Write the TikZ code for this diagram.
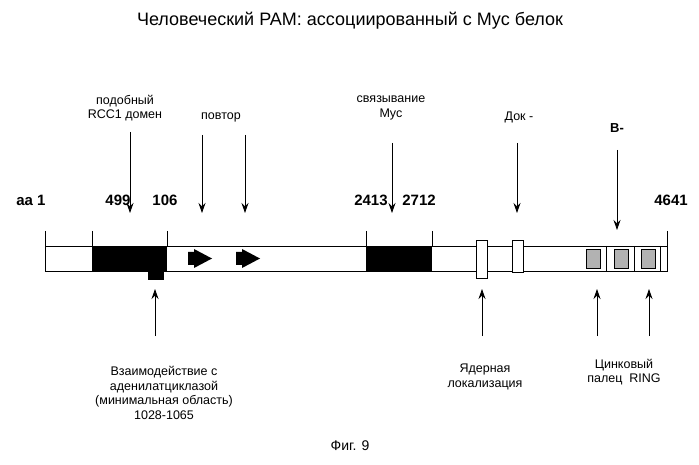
\documentclass[tikz,border=0pt]{standalone}
\usepackage{fontspec}
\setmainfont{Liberation Sans}
\usetikzlibrary{arrows.meta}

\tikzset{
  lbl/.style={align=center, font=\fontsize{12.5}{14.5}\selectfont, inner sep=1pt},
  num/.style={font=\bfseries\fontsize{15}{17}\selectfont, inner sep=1pt},
  pt/.style={-{Stealth[length=10pt,width=7pt]}, thick},
}

\begin{document}
\begin{tikzpicture}[x=1pt,y=-1pt]
            \useasboundingbox (0,0) rectangle (699,465);

            % title and caption
            \node[font=\fontsize{18}{21}\selectfont] (title) at (350,21) {Человеческий PAM: ассоциированный с Myc белок};
            \node[font=\fontsize{14}{16}\selectfont] (fig) at (350,446) {Фиг. 9};

            % protein bar
            \draw[semithick] (45,246) rectangle (667,271);
            \fill (92,246) rectangle (167,271);
            \fill (366,246) rectangle (432,271);
            \fill (148,271) rectangle (164,280);
            \foreach \x in {45,92,167,366,432,667}
                \draw (\x,231) -- (\x,246);
            % repeats
            \foreach \x in {188,236}
                \fill (\x,252) rectangle (\x+6,265) (\x+6,249) -- (\x+24,258.5) -- (\x+6,268) -- cycle;
            % nuclear / dock boxes
            \draw[fill=white] (476,240) rectangle (487,278);
            \draw[fill=white] (512,240) rectangle (523,272);
            % zinc finger
            \foreach \x in {586,614,641}
                \draw[fill=gray!60] (\x,249) rectangle (\x+14,268);
            \foreach \x in {606,634,660}
                \draw (\x,246) -- (\x,271);

            % position numbers
            \node[num] (aa) at (31,200) {aa 1};
            \node[num] (n499) at (118,200) {499};
            \node[num] (n106) at (165,200) {106};
            \node[num] (n2413) at (371,200) {2413};
            \node[num] (n2712) at (419,200) {2712};
            \node[num] (n4641) at (671,200) {4641};

            % upper labels
            \node[lbl] (rcc) at (125,108) {подобный\\RCC1 домен};
            \node[lbl] (rep) at (221,117) {повтор};
            \node[lbl] (myc) at (391,108) {связывание\\Myc};
            \node[lbl] (dok) at (519,117) {Док -};
            \node[lbl, font=\bfseries\fontsize{13}{15}\selectfont] (bb) at (617,128) {B-};

            \coordinate (rcc1) at (130,132);
            \coordinate (rcc2) at (130,213);
            \draw[pt] (rcc1) -- (rcc2);
            \coordinate (rp1a) at (202,135);
            \coordinate (rp1b) at (202,213);
            \draw[pt] (rp1a) -- (rp1b);
            \coordinate (rp2a) at (245,135);
            \coordinate (rp2b) at (245,213);
            \draw[pt] (rp2a) -- (rp2b);
            \coordinate (myc1) at (392,143);
            \coordinate (myc2) at (392,213);
            \draw[pt] (myc1) -- (myc2);
            \coordinate (dok1) at (517,143);
            \coordinate (dok2) at (517,213);
            \draw[pt] (dok1) -- (dok2);
            \coordinate (bb1) at (617,150);
            \coordinate (bb2) at (617,230);
            \draw[pt] (bb1) -- (bb2);

            % lower arrows
            \coordinate (ad1) at (155,336);
            \coordinate (ad2) at (155,289);
            \draw[pt] (ad1) -- (ad2);
            \coordinate (nl1) at (482,336);
            \coordinate (nl2) at (482,289);
            \draw[pt] (nl1) -- (nl2);
            \coordinate (zf1) at (597,336);
            \coordinate (zf2) at (597,289);
            \draw[pt] (zf1) -- (zf2);
            \coordinate (zr1) at (649,336);
            \coordinate (zr2) at (649,289);
            \draw[pt] (zr1) -- (zr2);

            % lower labels
            \node[lbl] (adc) at (164,393) {Взаимодействие с\\аденилатциклазой\\(минимальная область)\\1028-1065};
            \node[lbl] (nuc) at (485,377) {Ядерная\\локализация};
            \node[lbl] (ring) at (624,372) {Цинковый\\палец \ RING};
\end{tikzpicture}
\end{document}
